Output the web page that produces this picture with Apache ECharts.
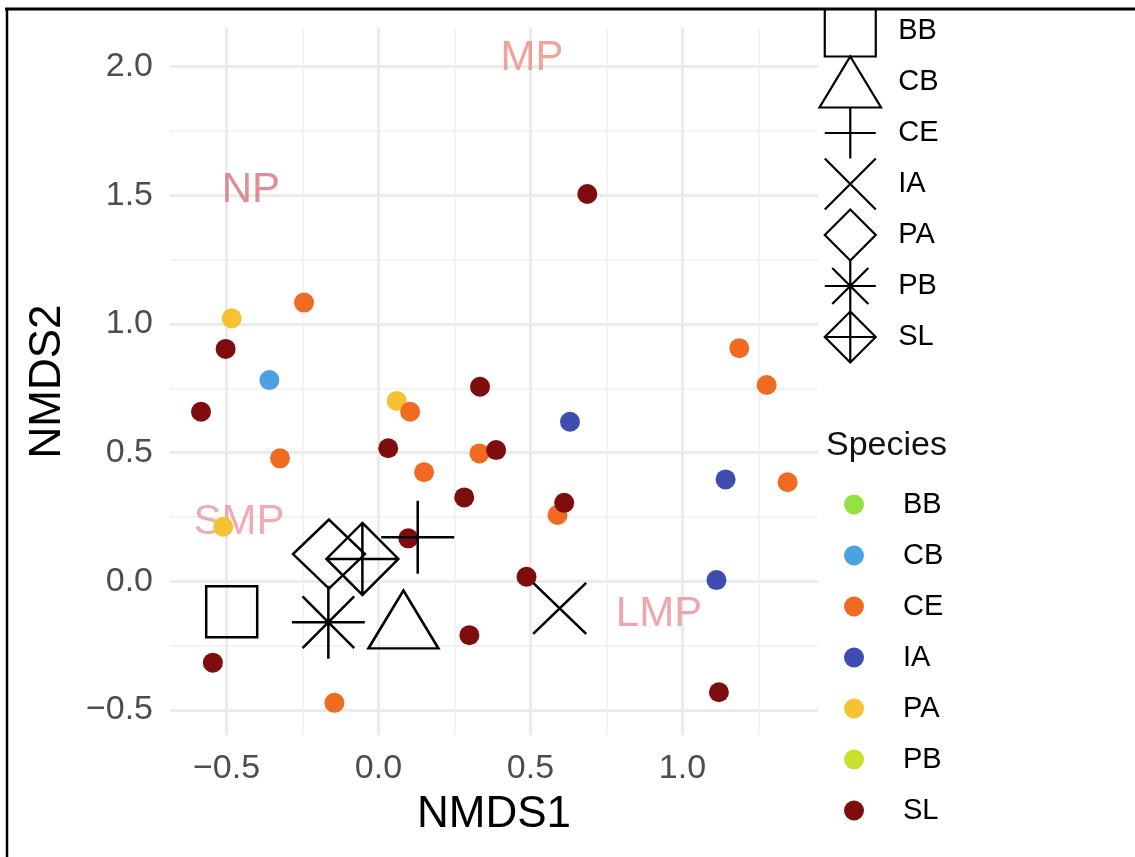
<!DOCTYPE html>
<html><head><meta charset="utf-8">
<script src="https://cdn.jsdelivr.net/npm/echarts@6/dist/echarts.min.js"></script>
<style>html,body{margin:0;padding:0;background:#fff}#c{width:1135px;height:857px}</style>
</head><body><div id="c"></div>
<script>
// ---------- data ----------
const speciesNames = ['BB', 'CB', 'CE', 'IA', 'PA', 'PB', 'SL'];
const bbX = [];
const bbY = [];
const cbX = [-0.359];
const cbY = [0.782];
const ceX = [-0.245, 0.104, -0.324, 0.150, 1.187, 1.277, 0.332, 1.346, 0.589, -0.145];
const ceY = [1.083, 0.659, 0.478, 0.424, 0.906, 0.763, 0.497, 0.385, 0.258, -0.472];
const iaX = [0.630, 1.142, 1.112];
const iaY = [0.620, 0.396, 0.005];
const paX = [-0.483, 0.060, -0.511];
const paY = [1.022, 0.701, 0.212];
const pbX = [];
const pbY = [];
const slX = [-0.503, -0.584, 0.032, 0.098, 0.334, 0.387, 0.282, 0.611, 0.487, 0.299, 1.120, -0.545, 0.687];
const slY = [0.903, 0.659, 0.517, 0.167, 0.756, 0.510, 0.326, 0.305, 0.018, -0.209, -0.431, -0.316, 1.505];
// species centroids (BB, CB, CE, IA, PA, PB, SL)
const centroidX = [-0.483, 0.082, 0.129, 0.596, -0.163, -0.165, -0.053];
const centroidY = [-0.118, -0.187, 0.171, -0.105, 0.106, -0.159, 0.087];
// group labels
const groupNames = ['NP', 'MP', 'SMP', 'LMP'];
const groupX = [-0.42, 0.505, -0.459, 0.923];
const groupY = [1.52, 2.03, 0.23, -0.127];
// ticks
const xMajorTicks = [-0.5, 0, 0.5, 1.0];
const xMinorTicks = [-0.25, 0.25, 0.75, 1.25];
const yMajorTicks = [-0.5, 0, 0.5, 1.0, 1.5, 2.0];
const yMinorTicks = [-0.25, 0.25, 0.75, 1.25, 1.75];

// ---------- styles ----------
const FONT = "'Liberation Sans', Arial, Helvetica, sans-serif";
const speciesColors = {BB:'#93e23f', CB:'#4aa2e2', CE:'#f06a22', IA:'#3f4cb2', PA:'#f4c232', PB:'#c9e02f', SL:'#7e0e0e'};
const groupColors = ['#d8707c', '#ec8c80', '#e8979f', '#ea9097'];
const shapeStyle = {
  BB: {symbol:'path://M0,0L100,0L100,100L0,100Z', size:[51,51], offset:[0,0]},
  CB: {symbol:'path://M35,0L70,58L0,58Z', size:[70,58], offset:[0,-10]},
  CE: {symbol:'path://M0,50L100,50M50,0L50,100', size:[73,73], offset:[0,0]},
  IA: {symbol:'path://M0,0L100,100M0,100L100,0', size:[53,51], offset:[0,0]},
  PA: {symbol:'path://M50,0L100,50L50,100L0,50Z', size:[72,69], offset:[0,0]},
  PB: {symbol:'path://M0,50L100,50M50,0L50,100M14.6,14.6L85.4,85.4M14.6,85.4L85.4,14.6', size:[73,73], offset:[0,0]},
  SL: {symbol:'path://M50,0L100,50L50,100L0,50ZM0,50L100,50M50,0L50,100', size:[72,72], offset:[0,0]}
};

const pts = {BB:[bbX,bbY], CB:[cbX,cbY], CE:[ceX,ceY], IA:[iaX,iaY], PA:[paX,paY], PB:[pbX,pbY], SL:[slX,slY]};
function zip(xs, ys){ return xs.map((x,i)=>[x, ys[i]]); }
const fmt = v => (v < 0 ? '\u2212' : '') + Math.abs(v).toFixed(1);

const series = [];
series.push({
  type:'scatter', name:'_groups', silent:true, symbolSize:1, z:1,
  itemStyle:{color:'rgba(0,0,0,0)'},
  label:{show:true, position:'inside', fontSize:42, fontFamily:FONT, formatter:p=>p.name},
  data: groupNames.map((n,i)=>({name:n, value:[groupX[i], groupY[i]], label:{color:groupColors[i]}}))
});
['BB','CB','PA','PB','IA','CE','SL'].forEach(s=>{
  series.push({
    type:'scatter', name:s, symbol:'circle', symbolSize:20, z:2,
    itemStyle:{color:speciesColors[s], opacity:1},
    data: zip(pts[s][0], pts[s][1])
  });
});
speciesNames.forEach((s,i)=>{
  const st = shapeStyle[s];
  series.push({
    type:'scatter', name:'shape-'+s, symbol:st.symbol, symbolSize:st.size, symbolOffset:st.offset, z:3,
    symbolKeepAspect:false,
    itemStyle:{color:'none', borderColor:'#000', borderWidth:2.5, opacity:1},
    data:[[centroidX[i], centroidY[i]]]
  });
});

const chart = echarts.init(document.getElementById('c'), null, {renderer:'canvas'});
chart.setOption({
  backgroundColor:'#fff',
  animation:false,
  title:{text:'Species', left:826, top:429, padding:0,
    textStyle:{fontSize:34, fontWeight:'normal', color:'#111', fontFamily:FONT, lineHeight:34}},
  grid:{left:170, top:28, width:648, height:707, containLabel:false, outerBoundsMode:'none'},
  xAxis:[
    {type:'value', min:-0.686, max:1.446, position:'bottom',
     name:'NMDS1', nameLocation:'middle', nameGap:58,
     nameTextStyle:{fontSize:44, color:'#000', fontFamily:FONT},
     axisLine:{show:false}, axisTick:{show:false, customValues:xMajorTicks},
     axisLabel:{customValues:xMajorTicks, formatter:fmt, fontSize:34, color:'#4d4d4d', fontFamily:FONT, margin:17},
     splitLine:{show:true, lineStyle:{color:'#ebebeb', width:3}}},
    {type:'value', min:-0.686, max:1.446, position:'top',
     axisLine:{show:false}, axisTick:{show:false, customValues:xMinorTicks},
     axisLabel:{show:false},
     splitLine:{show:true, lineStyle:{color:'#f0f0f0', width:1.5}}}
  ],
  yAxis:[
    {type:'value', min:-0.597, max:2.15, position:'left',
     name:'NMDS2', nameLocation:'middle', nameGap:100,
     nameTextStyle:{fontSize:44, color:'#000', fontFamily:FONT},
     axisLine:{show:false}, axisTick:{show:false, customValues:yMajorTicks},
     axisLabel:{customValues:yMajorTicks, formatter:fmt, fontSize:34, color:'#4d4d4d', fontFamily:FONT, margin:17},
     splitLine:{show:true, lineStyle:{color:'#ebebeb', width:3}}},
    {type:'value', min:-0.597, max:2.15, position:'right',
     axisLine:{show:false}, axisTick:{show:false, customValues:yMinorTicks},
     axisLabel:{show:false},
     splitLine:{show:true, lineStyle:{color:'#f0f0f0', width:1.5}}}
  ],
  legend:[
    {orient:'vertical', left:817, top:3, padding:0, itemWidth:86, itemHeight:51, itemGap:-5,
     selectedMode:false,
     data: speciesNames.map(s=>({name:'shape-'+s, icon:shapeStyle[s].symbol})),
     formatter: n => n.replace('shape-',''),
     itemStyle:{color:'none', borderColor:'#000', borderWidth:2.2},
     textStyle:{fontSize:29, color:'#000', fontFamily:FONT, lineHeight:51}},
    {orient:'vertical', left:844, top:490, padding:0, itemWidth:88, itemHeight:20, itemGap:22,
     selectedMode:false, icon:'circle',
     data: speciesNames.slice(),
     textStyle:{fontSize:29, color:'#000', fontFamily:FONT, lineHeight:20}}
  ],
  graphic:[
    {type:'rect', shape:{x:0, y:0, width:1135, height:8}, style:{fill:'#fff'}, z:100, silent:true},
    {type:'line', shape:{x1:5, y1:9, x2:1135, y2:9}, style:{stroke:'#000', lineWidth:3}, z:101, silent:true},
    {type:'line', shape:{x1:7, y1:8, x2:7, y2:857}, style:{stroke:'#000', lineWidth:2.5}, z:101, silent:true}
  ],
  series: series
});
</script></body></html>
